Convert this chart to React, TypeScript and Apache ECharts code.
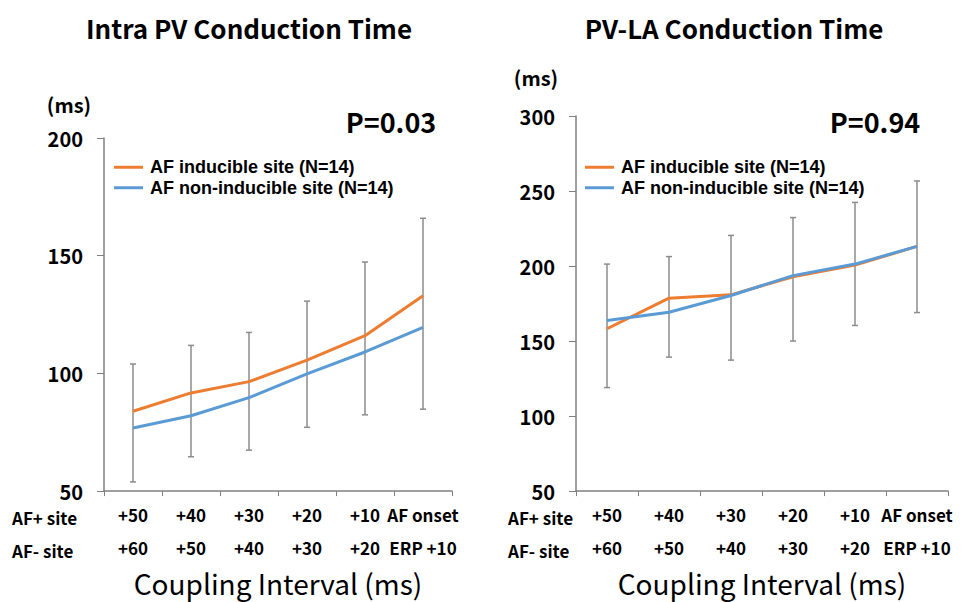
import React, { useEffect, useRef } from "react";
import * as echarts from "echarts";

const afPlusLabels = ["+50", "+40", "+30", "+20", "+10", "AF onset"];
const afMinusLabels = ["+60", "+50", "+40", "+30", "+20", "ERP +10"];

const leftOrange = [83.9, 91.7, 96.5, 105.6, 116.0, 133.0];
const leftBlue = [76.8, 82.0, 89.7, 99.8, 109.1, 119.6];
const leftErrHigh = [104.0, 111.9, 117.4, 130.7, 147.3, 165.9];
const leftErrLow = [53.9, 64.6, 67.4, 77.1, 82.4, 84.8];

const rightOrange = [158.2, 178.6, 180.8, 192.9, 200.6, 213.1];
const rightBlue = [163.7, 169.2, 180.4, 193.6, 201.3, 213.1];
const rightErrHigh = [201.3, 206.3, 220.4, 232.3, 242.4, 256.7];
const rightErrLow = [119.0, 139.3, 137.3, 150.0, 160.4, 169.0];

const seriesNames = ["AF inducible site (N=14)", "AF non-inducible site (N=14)"];
const FONT = '"Noto Sans CJK JP", "Noto Sans", sans-serif';
const LEGEND_FONT = '"Liberation Sans", Arial, sans-serif';
const ORANGE = "#ED7D31";
const BLUE = "#5B9BD5";
const AXIS = "#808080";
const ERR = "#8c8c8c";

function txt(x: number, y: number, text: string, size: number, weight: string, align: string) {
  return {
    type: "text",
    x,
    y,
    style: {
      text,
      font: `${weight} ${size}px ${FONT}`,
      fill: "#000",
      textAlign: align,
      textVerticalAlign: "middle",
      align,
      verticalAlign: "middle",
    },
  };
}

export default function App() {
  const ref = useRef<HTMLDivElement>(null);
  useEffect(() => {
    document.body.style.margin = "0";
    const chart = echarts.init(ref.current!, undefined, { renderer: "svg" });
    const cats = afPlusLabels.map((a, i) => `${a}|${afMinusLabels[i]}`);
    const errRender = (params: any, api: any) => {
      const x = api.value(0);
      const lo = api.coord([x, api.value(1)]);
      const hi = api.coord([x, api.value(2)]);
      const cw = 3;
      const st = { stroke: ERR, lineWidth: 1.5 };
      return {
        type: "group",
        children: [
          { type: "line", shape: { x1: lo[0], y1: lo[1], x2: hi[0], y2: hi[1] }, style: st },
          { type: "line", shape: { x1: lo[0] - cw, y1: lo[1], x2: lo[0] + cw, y2: lo[1] }, style: st },
          { type: "line", shape: { x1: hi[0] - cw, y1: hi[1], x2: hi[0] + cw, y2: hi[1] }, style: st },
        ],
      };
    };
    const xAxisBase = {
      type: "category",
      data: cats,
      boundaryGap: true,
      axisLine: { lineStyle: { color: AXIS, width: 1.5 } },
      axisTick: { show: true, length: 5, lineStyle: { color: AXIS } },
      axisLabel: {
        color: "#000",
        fontFamily: FONT,
        fontSize: 17,
        fontWeight: "bold",
        lineHeight: 33,
        margin: 7,
        interval: 0,
        formatter: (v: string) => v.split("|").join("\n"),
      },
      name: "Coupling Interval (ms)",
      nameLocation: "middle",
      nameGap: 74,
      nameTextStyle: { color: "#000", fontFamily: FONT, fontSize: 28 },
    };
    const yAxisBase = {
      type: "value",
      interval: 50,
      min: 50,
      splitLine: { show: false },
      axisLine: { show: true, lineStyle: { color: AXIS, width: 1.5 } },
      axisTick: { show: true, length: 7, lineStyle: { color: AXIS } },
      axisLabel: { color: "#000", fontFamily: FONT, fontSize: 20, fontWeight: "bold", margin: 21 },
    };
    const lineSeries = (name: string, data: number[], color: string, idx: number) => ({
      type: "line",
      name,
      data,
      xAxisIndex: idx,
      yAxisIndex: idx,
      symbol: "none",
      lineStyle: { color, width: 3 },
      itemStyle: { color },
      z: 5,
    });
    const errSeries = (lo: number[], hi: number[], idx: number) => ({
      type: "custom",
      xAxisIndex: idx,
      yAxisIndex: idx,
      renderItem: errRender,
      encode: { x: 0, y: [1, 2] },
      data: lo.map((l, i) => [i, l, hi[i]]),
      z: 2,
    });
    const legendBase = {
      orient: "vertical",
      top: 152,
      icon: "rect",
      itemWidth: 29,
      itemHeight: 3,
      itemGap: 0,
      itemStyle: { borderWidth: 0 },
      textStyle: { color: "#000", fontFamily: LEGEND_FONT, fontSize: 18, fontWeight: "bold", lineHeight: 20.5, padding: [0, 0, 0, 2] },
      data: seriesNames,
      selectedMode: false,
    };
    chart.setOption({
      animation: false,
      backgroundColor: "#fff",
      grid: [
        { left: 104, top: 138, width: 348, height: 356 },
        { left: 576, top: 116, width: 372, height: 379 },
      ],
      xAxis: [
        { ...xAxisBase, gridIndex: 0 },
        { ...xAxisBase, gridIndex: 1 },
      ],
      yAxis: [
        { ...yAxisBase, gridIndex: 0, max: 200 },
        { ...yAxisBase, gridIndex: 1, max: 300 },
      ],
      legend: [
        { ...legendBase, left: 109 },
        { ...legendBase, left: 580 },
      ],
      series: [
        errSeries(leftErrLow, leftErrHigh, 0),
        lineSeries(seriesNames[0], leftOrange, ORANGE, 0),
        lineSeries(seriesNames[1], leftBlue, BLUE, 0),
        errSeries(rightErrLow, rightErrHigh, 1),
        lineSeries(seriesNames[0], rightOrange, ORANGE, 1),
        lineSeries(seriesNames[1], rightBlue, BLUE, 1),
      ],
      graphic: [
        txt(249, 27, "Intra PV Conduction Time", 26, "bold", "center"),
        txt(734, 27, "PV-LA Conduction Time", 26, "bold", "center"),
        txt(69, 104, "(ms)", 20, "bold", "center"),
        txt(536, 77, "(ms)", 20, "bold", "center"),
        txt(391, 121, "P=0.03", 27, "bold", "center"),
        txt(875, 121, "P=0.94", 27, "bold", "center"),
        txt(12, 517, "AF+ site", 17, "bold", "left"),
        txt(12, 550, "AF- site", 17, "bold", "left"),
        txt(508, 517, "AF+ site", 17, "bold", "left"),
        txt(508, 550, "AF- site", 17, "bold", "left"),
      ],
    });
    return () => chart.dispose();
  }, []);
  return <div ref={ref} style={{ width: 964, height: 602 }} />;
}
